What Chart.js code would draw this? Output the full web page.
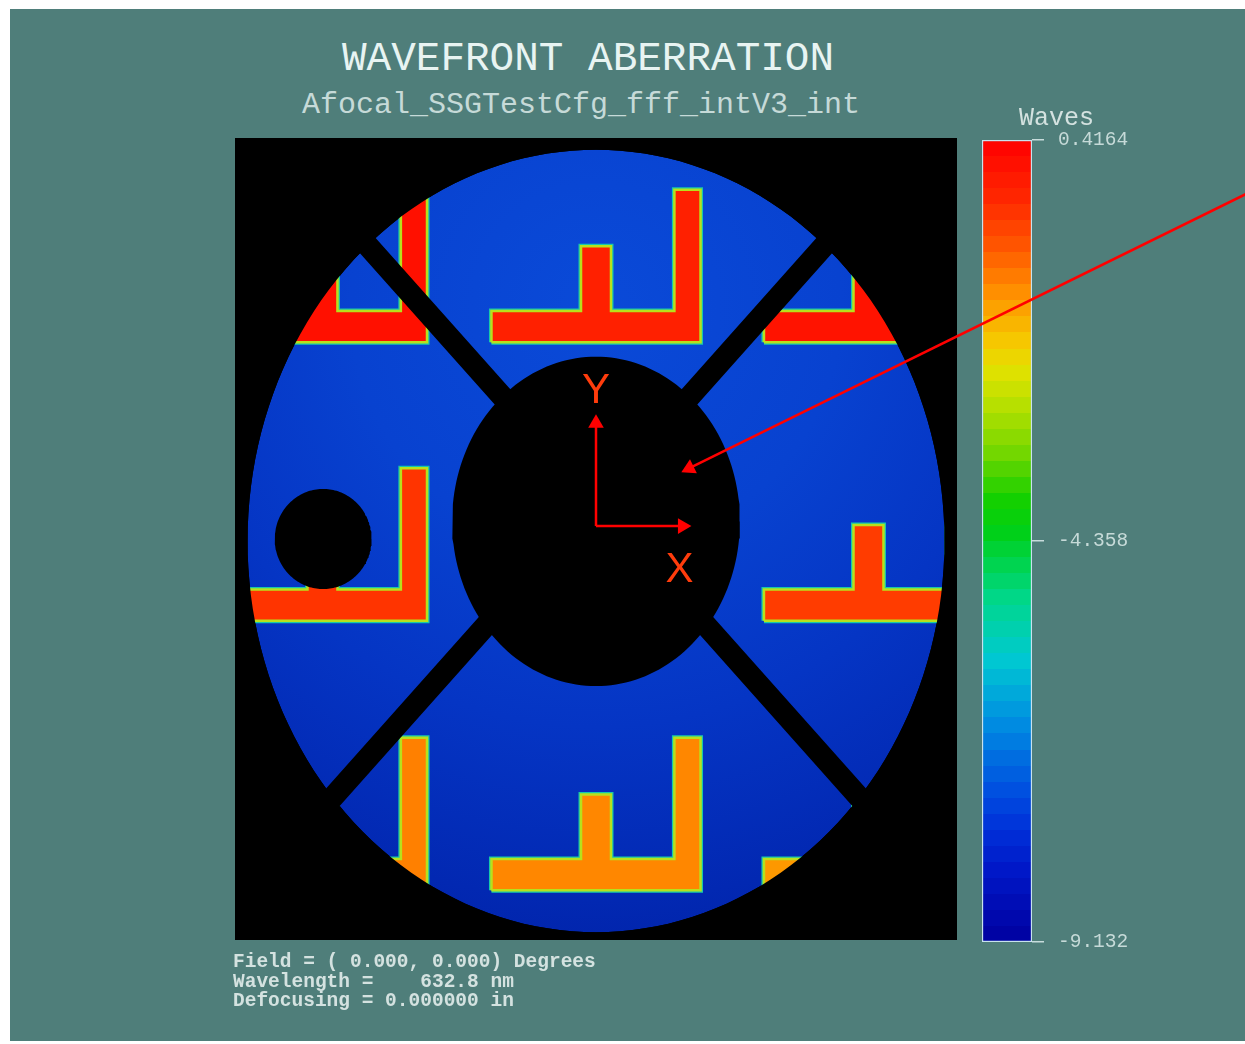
<!DOCTYPE html>
<html>
<head>
<meta charset="utf-8">
<title>Wavefront aberration</title>
<script src="https://cdn.jsdelivr.net/npm/chart.js@4.4.0/dist/chart.umd.min.js"></script>
<style>
  html, body { margin: 0; padding: 0; background: #ffffff; }
  body { width: 1245px; height: 1044px; position: relative; overflow: hidden; }
  #panel { position: absolute; left: 10px; top: 9px; width: 1235px; height: 1032px; background: #4f7e7a; }
  #barChart { position: absolute; left: 960px; top: 100px; }
  #mapChart { position: absolute; left: 0; top: 0; }
  .note { position: absolute; font-family: "Liberation Mono", "DejaVu Sans Mono", monospace; color: #d4e2e0; white-space: pre; }
</style>
</head>
<body>
<div id="panel"></div>
<div class="note" style="left:342px;top:39px;font-size:41px;line-height:41px;color:#e8f4f2;">WAVEFRONT ABERRATION</div>
<div class="note" style="left:302px;top:90px;font-size:30px;line-height:30px;color:#c6dad8;">Afocal_SSGTestCfg_fff_intV3_int</div>
<canvas id="barChart" width="285" height="870"></canvas>
<canvas id="mapChart" width="1245" height="1044"></canvas>
<div class="note" style="left:1019px;top:106px;font-size:25px;line-height:25px;">Waves</div>
<div class="note" style="left:233px;top:953px;font-size:19.5px;line-height:19.5px;font-weight:bold;">Field = ( 0.000, 0.000) Degrees
Wavelength =    632.8 nm
Defocusing = 0.000000 in</div>
<script>
// colour scale (waves)
const waveMax = 0.4164;
const waveMin = -9.132;
const tickValues = [0.4164, -4.358, -9.132];
const tickLabels = ['0.4164', '-4.358', '-9.132'];

// apertures in pupil units: [centre x, centre y, radius x, radius y]
const pupilCircle = [0, 0, 1, 1];
const obscurationCircle = [0, 0.05, 0.413, 0.421];
const holeCircle = [-0.783, 0.005, 0.139, 0.128];

// spider struts: two lines crossing at strutCross
const strutSlopes = [1, -1];
const strutCross = [0, 0.10];
const strutHalfWidth = 0.042;

// one L+T marking, outline relative to its anchor
const markX = [-0.30, 0.30, 0.30, 0.225, 0.225, 0.043, 0.043, -0.043, -0.043, -0.30];
const markY = [0, 0, 0.39, 0.39, 0.08, 0.08, 0.245, 0.245, 0.08, 0.08];
// marking anchors (3x3 grid) and their wavefront value
const anchorX = [-0.785, 0, 0.782];
const anchorY = [0.508, -0.204, -0.893];
const markWaves = [
  [0.13, -0.16, 0.08],
  [-0.44, -0.50, -0.54],
  [-1.25, -1.32, -1.49]
];

// red annotation arrows
const arrowStartX = [0, 0, 1.9];
const arrowStartY = [0.038, 0.038, 0.902];
const arrowEndX = [0, 0.248, 0.268];
const arrowEndY = [0.301, 0.038, 0.186];
const axisNames = ['Y', 'X'];
const axisNameX = [0, 0.24];
const axisNameY = [0.352, -0.105];

// jet-like colour map, t = 0 at top of colour bar
const cmapStops = [
  [0.000, [255, 0, 0]],
  [0.075, [255, 40, 0]],
  [0.137, [255, 90, 0]],
  [0.187, [255, 140, 0]],
  [0.256, [245, 205, 0]],
  [0.287, [225, 225, 0]],
  [0.324, [190, 225, 0]],
  [0.387, [120, 215, 0]],
  [0.449, [20, 208, 0]],
  [0.486, [0, 208, 20]],
  [0.574, [0, 215, 140]],
  [0.648, [0, 200, 210]],
  [0.723, [0, 144, 225]],
  [0.810, [0, 80, 224]],
  [0.860, [0, 48, 216]],
  [0.910, [0, 24, 200]],
  [1.000, [0, 0, 160]]
];
const bandCount = 50;

function waveColor(v) {
  let t = (waveMax - v) / (waveMax - waveMin);
  t = Math.min(1, Math.max(0, t));
  for (let i = 1; i < cmapStops.length; i++) {
    const [t1, c1] = cmapStops[i];
    const [t0, c0] = cmapStops[i - 1];
    if (t <= t1) {
      const f = (t - t0) / (t1 - t0);
      const c = c0.map((a, k) => Math.round(a + (c1[k] - a) * f));
      return 'rgb(' + c.join(',') + ')';
    }
  }
  return 'rgb(0,0,160)';
}

// outline of an aperture, starting at angle `from` (degrees)
function ring(c, from) {
  const pts = [];
  for (let k = 0; k <= 180; k++) {
    const a = (from + k * 2) * Math.PI / 180;
    pts.push({ x: c[0] + c[2] * Math.cos(a), y: c[1] + c[3] * Math.sin(a) });
  }
  return pts;
}

function shape(points, color, extra) {
  return Object.assign({
    data: points, showLine: true, fill: 'shape', backgroundColor: color,
    borderWidth: 0, pointRadius: 0
  }, extra || {});
}

// bluish background of the pupil
function pupilFill(context) {
  const chart = context.chart;
  const { x, y } = chart.scales;
  if (!chart.chartArea || !x || !y) return '#0638c8';
  const cx = x.getPixelForValue(0), cy = y.getPixelForValue(0.6);
  const g = chart.ctx.createRadialGradient(cx, cy, 0, cx, cy, 700);
  g.addColorStop(0, '#0a4ad8');
  g.addColorStop(0.35, '#0842d0');
  g.addColorStop(0.6, '#0535c4');
  g.addColorStop(0.85, '#0228b2');
  g.addColorStop(1, '#0020a4');
  return g;
}

const datasets = [];
datasets.push(shape(ring(pupilCircle, 0), pupilFill));

anchorY.forEach((ay, r) => {
  anchorX.forEach((ax, c) => {
    const pts = markX.map((mx, k) => ({ x: ax + mx, y: ay + markY[k] }));
    pts.push(pts[0]);
    datasets.push({ data: pts.slice(), showLine: true, fill: false, borderColor: '#18c8aa', borderWidth: 5, borderJoinStyle: 'miter', pointRadius: 0 });
    datasets.push(shape(pts.slice(), waveColor(markWaves[r][c]), { borderColor: '#b8e01c', borderWidth: 2.5, borderJoinStyle: 'miter' }));
  });
});

// black outside the pupil: frame traced one way, pupil edge the other way
const maskPts = [
  { x: -1.3, y: 1.3 }, { x: 1.3, y: 1.3 }, { x: 1.3, y: -1.3 }, { x: -1.3, y: -1.3 }, { x: -1.3, y: 1.3 }
].concat(ring(pupilCircle, 180));
datasets.push(shape(maskPts, '#000000'));

strutSlopes.forEach(m => {
  const yl = strutCross[1] + m * (-1.3 - strutCross[0]);
  const yr = strutCross[1] + m * (1.3 - strutCross[0]);
  datasets.push(shape([
    { x: -1.3, y: yl + strutHalfWidth }, { x: 1.3, y: yr + strutHalfWidth },
    { x: 1.3, y: yr - strutHalfWidth }, { x: -1.3, y: yl - strutHalfWidth }
  ], '#000000'));
});

datasets.push(shape(ring(obscurationCircle, 0), '#000000'));
datasets.push(shape(ring(holeCircle, 0), '#000000'));

function arrowAngle(chart, i) {
  const { x, y } = chart.scales;
  const dx = x.getPixelForValue(arrowEndX[i]) - x.getPixelForValue(arrowStartX[i]);
  const dy = y.getPixelForValue(arrowEndY[i]) - y.getPixelForValue(arrowStartY[i]);
  return Math.atan2(dx, -dy) * 180 / Math.PI;
}

arrowEndX.forEach((ex, i) => {
  datasets.push({
    data: [{ x: arrowStartX[i], y: arrowStartY[i] }, { x: ex, y: arrowEndY[i] }],
    showLine: true, fill: false, clip: false,
    borderColor: '#ff0000', borderWidth: 2.5,
    pointStyle: 'triangle', pointRadius: [0, 9], pointBorderWidth: 0,
    pointBackgroundColor: '#ff0000',
    pointRotation: ctx => arrowAngle(ctx.chart, i)
  });
});

// first entry at the bottom, last on top
datasets.forEach((d, i) => { d.order = -i; });

const blackArea = {
  id: 'blackArea',
  beforeDatasetsDraw(chart) {
    const a = chart.chartArea;
    chart.ctx.save();
    chart.ctx.fillStyle = '#000000';
    chart.ctx.fillRect(a.left, a.top, a.right - a.left, a.bottom - a.top);
    chart.ctx.restore();
  }
};

const axisLabels = {
  id: 'axisLabels',
  afterDatasetsDraw(chart) {
    const { ctx } = chart;
    const { x, y } = chart.scales;
    ctx.save();
    ctx.fillStyle = '#ff3c0c';
    ctx.font = '42px "Liberation Sans", Arial, sans-serif';
    ctx.textAlign = 'center';
    ctx.textBaseline = 'alphabetic';
    axisNames.forEach((t, i) => {
      ctx.fillText(t, x.getPixelForValue(axisNameX[i]), y.getPixelForValue(axisNameY[i]));
    });
    ctx.restore();
  }
};

const monoFont = '"Liberation Mono", "DejaVu Sans Mono", monospace';

const mapChart = new Chart(document.getElementById('mapChart'), {
  type: 'scatter',
  data: { datasets: datasets },
  options: {
    responsive: false,
    animation: false,
    events: [],
    layout: { padding: { left: 235, right: 288, top: 138, bottom: 104 } },
    elements: { line: { tension: 0 }, point: { radius: 0 } },
    scales: {
      x: { type: 'linear', min: -1.036, max: 1.036, display: false },
      y: { type: 'linear', min: -1.02, max: 1.03, display: false }
    },
    plugins: {
      legend: { display: false },
      tooltip: { enabled: false }
    }
  },
  plugins: [blackArea, axisLabels]
});

// stepped colour bar
function colorbarFill(context) {
  const chart = context.chart;
  const area = chart.chartArea;
  if (!area) return waveColor(waveMin);
  const g = chart.ctx.createLinearGradient(0, area.top, 0, area.bottom);
  for (let i = 0; i < bandCount; i++) {
    const c = waveColor(waveMax - (i + 0.5) / bandCount * (waveMax - waveMin));
    g.addColorStop(i / bandCount, c);
    g.addColorStop((i + 1) / bandCount, c);
  }
  return g;
}

const barChart = new Chart(document.getElementById('barChart'), {
  type: 'bar',
  data: {
    labels: [''],
    datasets: [{
      data: [[waveMin, waveMax]],
      backgroundColor: colorbarFill,
      borderColor: '#c8e2ee',
      borderWidth: 1.5,
      borderSkipped: false,
      barPercentage: 1,
      categoryPercentage: 1
    }]
  },
  options: {
    responsive: false,
    animation: false,
    events: [],
    layout: { padding: { left: 22, top: 40, right: 113, bottom: 28 } },
    plugins: { legend: { display: false }, tooltip: { enabled: false } },
    scales: {
      x: { display: false },
      y: {
        position: 'right',
        min: waveMin,
        max: waveMax,
        border: { display: false },
        grid: { drawOnChartArea: false, tickLength: 12, color: '#c8dcdc', lineWidth: 1.5 },
        ticks: {
          color: '#c6dad8',
          padding: 14,
          autoSkip: false,
          font: { family: monoFont, size: 19.5 },
          callback: (value, index) => tickLabels[index]
        },
        afterBuildTicks: scale => { scale.ticks = tickValues.map(v => ({ value: v })); },
        afterFit: scale => { scale.width = 100; }
      }
    }
  }
});
</script>
</body>
</html>
